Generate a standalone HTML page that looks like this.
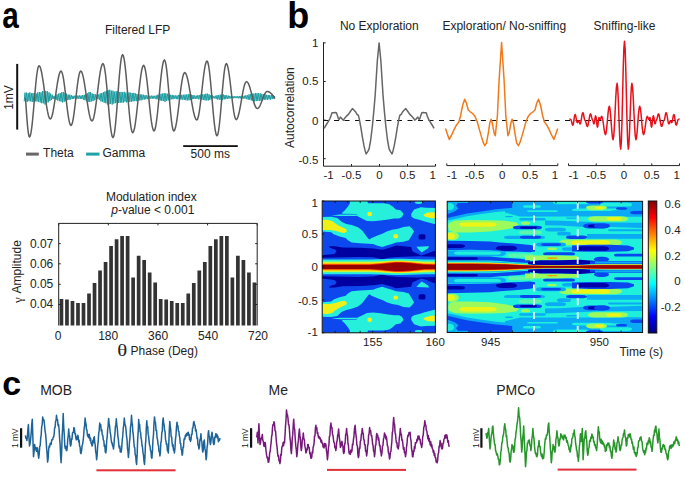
<!DOCTYPE html>
<html><head><meta charset="utf-8"><style>
html,body{margin:0;padding:0;background:#fff;width:685px;height:477px;overflow:hidden;}
svg{display:block;}
</style></head><body>
<svg width="685" height="477" viewBox="0 0 685 477">
<rect width="685" height="477" fill="#fff"/>
<text transform="translate(2.3,28.1) scale(0.874,1.083)" font-family="Liberation Sans, sans-serif" font-weight="bold" font-size="34" fill="#000">a</text>
<text x="137.6" y="34.4" font-family="Liberation Sans, sans-serif" font-size="12" fill="#222" text-anchor="middle">Filtered LFP</text>
<rect x="16.2" y="63.9" width="2" height="65.7" fill="#111"/>
<text transform="translate(12.9,97.5) rotate(-90)" font-family="Liberation Sans, sans-serif" font-size="12" fill="#222" text-anchor="middle">1mV</text>
<path d="M24.2,101.4 L25,92.7 L25.8,101.53 L26.6,92.64 L27.4,101.78 L28.2,93.18 L29,101.17 L29.8,92.41 L30.6,101.37 L31.4,93.12 L32.2,101.94 L33,93.02 L33.8,101.65 L34.6,93.15 L35.4,101.33 L36.2,93.5 L37,101.53 L37.8,92.43 L38.6,101.83 L39.4,92.14 L40.2,102.43 L41,92.35 L41.8,103.24 L42.6,91.03 L43.4,103.3 L44.2,91.18 L45,104.51 L45.8,90.94 L46.6,103.32 L47.4,91.37 L48.2,102.35 L49,92.33 L49.8,101.01 L50.6,93.63 L51.4,99.96 L52.2,94.75 L53,99.02 L53.8,96.17 L54.6,98.45 L55.4,95.46 L56.2,99.79 L57,94.39 L57.8,100.64 L58.6,93.68 L59.4,101.17 L60.2,93.06 L61,101.59 L61.8,92.28 L62.6,102.41 L63.4,91.98 L64.2,101.77 L65,92.84 L65.8,101.06 L66.6,93.68 L67.4,100.18 L68.2,94.73 L69,99.87 L69.8,94.69 L70.6,99.47 L71.4,95.29 L72.2,98.96 L73,95.81 L73.8,98.79 L74.6,95.69 L75.4,98.61 L76.2,95.86 L77,98.8 L77.8,95.55 L78.6,98.61 L79.4,95.46 L80.2,98.89 L81,95.53 L81.8,99.01 L82.6,95.1 L83.4,99.72 L84.2,94.79 L85,100.31 L85.8,94.16 L86.6,101.07 L87.4,93.36 L88.2,101.84 L89,92.13 L89.8,102.08 L90.6,91.95 L91.4,101.44 L92.2,93.46 L93,101.12 L93.8,94.03 L94.6,100.21 L95.4,94.34 L96.2,99.87 L97,95.08 L97.8,98.98 L98.6,94.55 L99.4,100 L100.2,93.46 L101,101.41 L101.8,92.98 L102.6,101.85 L103.4,92.17 L104.2,102.7 L105,91.44 L105.8,103.24 L106.6,90.76 L107.4,104.44 L108.2,90.28 L109,104.32 L109.8,89.77 L110.6,103.73 L111.4,90.71 L112.2,104.54 L113,90.68 L113.8,103.61 L114.6,91.68 L115.4,103.14 L116.2,91.18 L117,102.4 L117.8,91.33 L118.6,102.99 L119.4,92.21 L120.2,102.78 L121,91.91 L121.8,102.64 L122.6,92.22 L123.4,102.55 L124.2,91.84 L125,101.72 L125.8,92.66 L126.6,102.4 L127.4,91.72 L128.2,101.85 L129,92.43 L129.8,102.01 L130.6,92.78 L131.4,101.57 L132.2,92.99 L133,101.37 L133.8,92.93 L134.6,101.08 L135.4,93.39 L136.2,101.21 L137,93.93 L137.8,100.77 L138.6,93.65 L139.4,100.3 L140.2,94.29 L141,100.37 L141.8,94.54 L142.6,99.69 L143.4,94.71 L144.2,99.68 L145,95.17 L145.8,99.2 L146.6,95.34 L147.4,99.11 L148.2,95.59 L149,98.8 L149.8,95.82 L150.6,98.63 L151.4,95.67 L152.2,98.81 L153,95.73 L153.8,98.59 L154.6,95.84 L155.4,98.81 L156.2,95.49 L157,99.42 L157.8,94.71 L158.6,99.57 L159.4,94.55 L160.2,100.44 L161,93.81 L161.8,100.98 L162.6,93.54 L163.4,100.91 L164.2,93.1 L165,101.84 L165.8,93.33 L166.6,100.87 L167.4,93.74 L168.2,100.39 L169,94.29 L169.8,100.22 L170.6,94.85 L171.4,99.28 L172.2,94.87 L173,99.27 L173.8,95.32 L174.6,98.66 L175.4,95.43 L176.2,99.1 L177,95.46 L177.8,99.29 L178.6,94.94 L179.4,99.51 L180.2,94.84 L181,99.56 L181.8,94.76 L182.6,99.63 L183.4,94.82 L184.2,99.94 L185,94.59 L185.8,100.19 L186.6,94.64 L187.4,100.36 L188.2,94.12 L189,100.32 L189.8,94.27 L190.6,99.97 L191.4,94.78 L192.2,99.19 L193,95.02 L193.8,98.98 L194.6,95.52 L195.4,98.86 L196.2,95.67 L197,98.85 L197.8,95.18 L198.6,99.25 L199.4,95.12 L200.2,99.39 L201,94.53 L201.8,99.79 L202.6,94.29 L203.4,99.98 L204.2,94.4 L205,100.36 L205.8,93.7 L206.6,100.35 L207.4,93.66 L208.2,100.53 L209,94.25 L209.8,99.85 L210.6,95.25 L211.4,99.16 L212.2,95.44 L213,98.41 L213.8,96.19 L214.6,98.33 L215.4,95.74 L216.2,98.89 L217,95.23 L217.8,99.52 L218.6,95.08 L219.4,99.53 L220.2,94.64 L221,99.9 L221.8,94.67 L222.6,100.12 L223.4,94.52 L224.2,99.32 L225,95.02 L225.8,99.14 L226.6,95.4 L227.4,98.88 L228.2,95.55 L229,98.69 L229.8,95.92 L230.6,98.3 L231.4,96.2 L232.2,98.11 L233,96.2 L233.8,98.24 L234.6,96.24 L235.4,98.1 L236.2,96.28 L237,98.16 L237.8,96.17 L238.6,98.32 L239.4,96.12 L240.2,98.44 L241,95.95 L241.8,98.45 L242.6,95.91 L243.4,98.58 L244.2,95.7 L245,98.66 L245.8,95.4 L246.6,99.14 L247.4,95.13 L248.2,99.65 L249,94.41 L249.8,99.83 L250.6,94.17 L251.4,100.38 L252.2,93.54 L253,101.07 L253.8,93.63 L254.6,101.36 L255.4,92.97 L256.2,101.1 L257,93.18 L257.8,100.79 L258.6,93.16 L259.4,100.97 L260.2,93.39 L261,100.78 L261.8,93.85 L262.6,100.45 L263.4,94.2 L264.2,99.82 L265,94.35 L265.8,99.61 L266.6,94.79 L267.4,99.89 L268.2,94.99 L269,99.36 L269.8,95.11 L270.6,99.61 L271.4,95.21 L272.2,99.04 L273,95.07 L273.8,98.65 L274.6,95.92" fill="none" stroke="#1a9ea2" stroke-width="1"/>
<path d="M25.5,98 L26,105.61 L26.5,112.92 L27,119.67 L27.5,125.58 L28,130.43 L28.5,134.03 L29,136.25 L29.5,137 L30.29,135.79 L31.08,132.22 L31.88,126.56 L32.67,119.18 L33.46,110.58 L34.25,101.35 L35.04,92.12 L35.83,83.53 L36.62,76.14 L37.42,70.48 L38.21,66.91 L39,65.7 L39.94,66.61 L40.88,69.27 L41.83,73.51 L42.77,79.03 L43.71,85.45 L44.65,92.35 L45.59,99.25 L46.53,105.67 L47.47,111.19 L48.42,115.43 L49.36,118.09 L50.3,119 L51.19,118.18 L52.08,115.78 L52.97,111.97 L53.87,107 L54.76,101.21 L55.65,95 L56.54,88.79 L57.43,83 L58.33,78.03 L59.22,74.22 L60.11,71.82 L61,71 L61.83,71.93 L62.67,74.65 L63.5,78.98 L64.33,84.62 L65.17,91.2 L66,98.25 L66.83,105.3 L67.67,111.88 L68.5,117.52 L69.33,121.85 L70.17,124.57 L71,125.5 L71.81,124.57 L72.62,121.85 L73.42,117.52 L74.23,111.88 L75.04,105.3 L75.85,98.25 L76.66,91.2 L77.47,84.62 L78.28,78.98 L79.08,74.65 L79.89,71.93 L80.7,71 L81.64,71.85 L82.58,74.35 L83.53,78.32 L84.47,83.5 L85.41,89.53 L86.35,96 L87.29,102.47 L88.23,108.5 L89.17,113.68 L90.12,117.65 L91.06,120.15 L92,121 L92.92,120.02 L93.83,117.15 L94.75,112.59 L95.67,106.65 L96.58,99.73 L97.5,92.3 L98.42,84.87 L99.33,77.95 L100.25,72.01 L101.17,67.45 L102.08,64.58 L103,63.6 L103.83,64.86 L104.67,68.56 L105.5,74.44 L106.33,82.1 L107.17,91.02 L108,100.6 L108.83,110.18 L109.67,119.1 L110.5,126.76 L111.33,132.64 L112.17,136.34 L113,137.6 L113.8,136.19 L114.6,132.04 L115.4,125.44 L116.2,116.85 L117,106.84 L117.8,96.1 L118.6,85.36 L119.4,75.35 L120.2,66.76 L121,60.16 L121.8,56.01 L122.6,54.6 L123.44,55.93 L124.28,59.84 L125.12,66.05 L125.97,74.15 L126.81,83.58 L127.65,93.7 L128.49,103.82 L129.33,113.25 L130.17,121.35 L131.02,127.56 L131.86,131.47 L132.7,132.8 L133.61,131.65 L134.52,128.28 L135.42,122.91 L136.33,115.93 L137.24,107.79 L138.15,99.05 L139.06,90.31 L139.97,82.18 L140.88,75.19 L141.78,69.82 L142.69,66.45 L143.6,65.3 L144.47,66.42 L145.33,69.7 L146.2,74.92 L147.07,81.72 L147.93,89.65 L148.8,98.15 L149.67,106.65 L150.53,114.57 L151.4,121.38 L152.27,126.6 L153.13,129.88 L154,131 L154.87,129.79 L155.73,126.24 L156.6,120.59 L157.47,113.23 L158.33,104.65 L159.2,95.45 L160.07,86.25 L160.93,77.68 L161.8,70.31 L162.67,64.66 L163.53,61.11 L164.4,59.9 L165.18,61.11 L165.97,64.66 L166.75,70.31 L167.53,77.67 L168.32,86.25 L169.1,95.45 L169.88,104.65 L170.67,113.22 L171.45,120.59 L172.23,126.24 L173.02,129.79 L173.8,131 L174.71,130 L175.62,127.08 L176.53,122.43 L177.43,116.38 L178.34,109.32 L179.25,101.75 L180.16,94.18 L181.07,87.12 L181.97,81.07 L182.88,76.42 L183.79,73.5 L184.7,72.5 L185.71,73.31 L186.72,75.68 L187.72,79.46 L188.73,84.38 L189.74,90.1 L190.75,96.25 L191.76,102.4 L192.77,108.12 L193.78,113.04 L194.78,116.82 L195.79,119.19 L196.8,120 L197.65,118.99 L198.5,116.05 L199.35,111.36 L200.2,105.25 L201.05,98.14 L201.9,90.5 L202.75,82.86 L203.6,75.75 L204.45,69.64 L205.3,64.95 L206.15,62.01 L207,61 L207.83,62.27 L208.67,66.01 L209.5,71.95 L210.33,79.7 L211.17,88.72 L212,98.4 L212.83,108.08 L213.67,117.1 L214.5,124.85 L215.33,130.79 L216.17,134.53 L217,135.8 L217.78,134.57 L218.55,130.96 L219.32,125.23 L220.1,117.75 L220.88,109.04 L221.65,99.7 L222.43,90.36 L223.2,81.65 L223.98,74.17 L224.75,68.44 L225.53,64.83 L226.3,63.6 L227.12,64.55 L227.95,67.35 L228.78,71.8 L229.6,77.6 L230.43,84.35 L231.25,91.6 L232.07,98.85 L232.9,105.6 L233.72,111.4 L234.55,115.85 L235.38,118.65 L236.2,119.6 L237.06,118.95 L237.92,117.05 L238.77,114.04 L239.63,110.1 L240.49,105.52 L241.35,100.6 L242.21,95.68 L243.07,91.1 L243.93,87.16 L244.78,84.15 L245.64,82.25 L246.5,81.6 L247.4,82.06 L248.3,83.41 L249.2,85.55 L250.1,88.35 L251,91.61 L251.9,95.1 L252.8,98.59 L253.7,101.85 L254.6,104.65 L255.5,106.79 L256.4,108.14 L257.3,108.6 L258.12,108.31 L258.95,107.45 L259.77,106.08 L260.6,104.3 L261.43,102.23 L262.25,100 L263.07,97.77 L263.9,95.7 L264.73,93.92 L265.55,92.55 L266.38,91.69 L267.2,91.4 L268.18,91.54 L269.15,91.94 L270.12,92.6 L271.1,93.48 L272.07,94.56 L273.05,95.78 L274.02,97.11 L275,98.5" fill="none" stroke="#5c5c5c" stroke-width="1.5" stroke-linejoin="round"/>
<rect x="26" y="152.6" width="12.8" height="3" fill="#666"/>
<text x="43.1" y="157.3" font-family="Liberation Sans, sans-serif" font-size="12" fill="#222">Theta</text>
<rect x="86.1" y="152.6" width="13.4" height="3" fill="#1fa2a6"/>
<text x="102.4" y="157.3" font-family="Liberation Sans, sans-serif" font-size="12" fill="#222">Gamma</text>
<rect x="183.2" y="145.2" width="54.6" height="1.8" fill="#111"/>
<text x="210.3" y="157.7" font-family="Liberation Sans, sans-serif" font-size="12" fill="#222" text-anchor="middle">500 ms</text>
<text x="151.3" y="200.8" font-family="Liberation Sans, sans-serif" font-size="12" fill="#222" text-anchor="middle">Modulation index</text>
<text x="152.8" y="214.3" font-family="Liberation Sans, sans-serif" font-size="12" fill="#222" text-anchor="middle"><tspan font-style="italic">p</tspan>-value &lt; 0.001</text>
<path d="M59.6,299h3.7V325.5h-3.7zM65.11,299.5h3.7V325.5h-3.7zM70.63,301.1h3.7V325.5h-3.7zM76.14,303.1h3.7V325.5h-3.7zM81.66,303.1h3.7V325.5h-3.7zM87.17,293.6h3.7V325.5h-3.7zM92.68,282.9h3.7V325.5h-3.7zM98.2,270.5h3.7V325.5h-3.7zM103.71,261.9h3.7V325.5h-3.7zM109.22,245.9h3.7V325.5h-3.7zM114.74,239.3h3.7V325.5h-3.7zM120.25,236.1h3.7V325.5h-3.7zM125.77,236.1h3.7V325.5h-3.7zM131.28,277.6h3.7V325.5h-3.7zM136.79,255.8h3.7V325.5h-3.7zM142.31,260.1h3.7V325.5h-3.7zM147.82,272.6h3.7V325.5h-3.7zM153.34,282.4h3.7V325.5h-3.7zM158.85,299h3.7V325.5h-3.7zM164.36,299.5h3.7V325.5h-3.7zM169.88,301.1h3.7V325.5h-3.7zM175.39,303.1h3.7V325.5h-3.7zM180.91,303.1h3.7V325.5h-3.7zM186.42,293.6h3.7V325.5h-3.7zM191.93,282.9h3.7V325.5h-3.7zM197.45,270.5h3.7V325.5h-3.7zM202.96,261.9h3.7V325.5h-3.7zM208.47,245.9h3.7V325.5h-3.7zM213.99,239.3h3.7V325.5h-3.7zM219.5,236.1h3.7V325.5h-3.7zM225.02,236.1h3.7V325.5h-3.7zM230.53,277.6h3.7V325.5h-3.7zM236.04,255.8h3.7V325.5h-3.7zM241.56,260.1h3.7V325.5h-3.7zM247.07,272.6h3.7V325.5h-3.7zM252.59,282.4h3.7V325.5h-3.7z" fill="#333"/>
<path d="M58.7,325.5V223.4H257.2V325.5" fill="none" stroke="#222" stroke-width="1"/>
<path d="M58.7,243.6h2M257.2,243.6h-2M58.7,263.8h2M257.2,263.8h-2M58.7,284.3h2M257.2,284.3h-2M58.7,304.5h2M257.2,304.5h-2M58.7,223.4v2M108.33,223.4v2M157.95,223.4v2M207.57,223.4v2M257.2,223.4v2" stroke="#222" stroke-width="1"/>
<text x="53.3" y="247.5" font-family="Liberation Sans, sans-serif" font-size="12" fill="#222" text-anchor="end">0.07</text>
<text x="53.3" y="267.7" font-family="Liberation Sans, sans-serif" font-size="12" fill="#222" text-anchor="end">0.06</text>
<text x="53.3" y="288.2" font-family="Liberation Sans, sans-serif" font-size="12" fill="#222" text-anchor="end">0.05</text>
<text x="53.3" y="308.4" font-family="Liberation Sans, sans-serif" font-size="12" fill="#222" text-anchor="end">0.04</text>
<text x="58.2" y="340.1" font-family="Liberation Sans, sans-serif" font-size="12" fill="#222" text-anchor="middle">0</text>
<text x="108.15" y="340.1" font-family="Liberation Sans, sans-serif" font-size="12" fill="#222" text-anchor="middle">180</text>
<text x="158.1" y="340.1" font-family="Liberation Sans, sans-serif" font-size="12" fill="#222" text-anchor="middle">360</text>
<text x="208.05" y="340.1" font-family="Liberation Sans, sans-serif" font-size="12" fill="#222" text-anchor="middle">540</text>
<text x="258" y="340.1" font-family="Liberation Sans, sans-serif" font-size="12" fill="#222" text-anchor="middle">720</text>
<text transform="translate(21.2,266.8) rotate(-90)" font-family="Liberation Sans, sans-serif" font-size="12" fill="#222" text-anchor="middle">Amplitude</text>
<text transform="translate(21.5,300.2) rotate(-90)" font-family="Liberation Serif, serif" font-size="13" fill="#222" text-anchor="middle">γ</text>
<text transform="translate(117.3,355.6) scale(1.3,1)" font-family="Liberation Serif, serif" font-size="16" fill="#222">θ</text>
<text x="130.6" y="354.9" font-family="Liberation Sans, sans-serif" font-size="12" fill="#222">Phase (Deg)</text>
<text x="287.2" y="27.6" font-family="Liberation Sans, sans-serif" font-weight="bold" font-size="36" fill="#000">b</text>
<text x="379.3" y="30.1" font-family="Liberation Sans, sans-serif" font-size="12" fill="#222" text-anchor="middle">No Exploration</text>
<text x="504.3" y="30.1" font-family="Liberation Sans, sans-serif" font-size="12" fill="#222" text-anchor="middle">Exploration/ No-sniffing</text>
<text x="624.5" y="30.1" font-family="Liberation Sans, sans-serif" font-size="12" fill="#222" text-anchor="middle">Sniffing-like</text>
<text transform="translate(294.3,107.6) rotate(-90)" font-family="Liberation Sans, sans-serif" font-size="12" fill="#222" text-anchor="middle">Autocorrelation</text>
<path d="M323.5,42.2V166.2H435.5M323.5,42.9h2.2M323.5,81.5h2.2M323.5,120.1h2.2M323.5,158.7h2.2" fill="none" stroke="#222" stroke-width="1"/>
<path d="M351.5,166.2v-2.2M379.5,166.2v-2.2M407.5,166.2v-2.2M435.5,166.2v-2.2M446.8,165.6H557.8M446.8,165.6v-2.2M474.55,165.6v-2.2M502.3,165.6v-2.2M530.05,165.6v-2.2M557.8,165.6v-2.2M568.5,165.6H679.5M568.5,165.6v-2.2M596.25,165.6v-2.2M624,165.6v-2.2M651.75,165.6v-2.2M679.5,165.6v-2.2" fill="none" stroke="#222" stroke-width="1"/>
<text x="318.3" y="46.6" font-family="Liberation Sans, sans-serif" font-size="11.5" fill="#222" text-anchor="end">1</text>
<text x="318.3" y="84.7" font-family="Liberation Sans, sans-serif" font-size="11.5" fill="#222" text-anchor="end">0.5</text>
<text x="318.3" y="124.6" font-family="Liberation Sans, sans-serif" font-size="11.5" fill="#222" text-anchor="end">0</text>
<text x="318.3" y="164.2" font-family="Liberation Sans, sans-serif" font-size="11.5" fill="#222" text-anchor="end">-0.5</text>
<text x="323.5" y="179.1" font-family="Liberation Sans, sans-serif" font-size="11.5" fill="#222">-1</text>
<text x="435.8" y="179.1" font-family="Liberation Sans, sans-serif" font-size="11.5" fill="#222" text-anchor="end">1</text>
<text x="351.5" y="179.1" font-family="Liberation Sans, sans-serif" font-size="11.5" fill="#222" text-anchor="middle">-0.5</text>
<text x="379.5" y="179.1" font-family="Liberation Sans, sans-serif" font-size="11.5" fill="#222" text-anchor="middle">0</text>
<text x="407.5" y="179.1" font-family="Liberation Sans, sans-serif" font-size="11.5" fill="#222" text-anchor="middle">0.5</text>
<text x="446.8" y="179.1" font-family="Liberation Sans, sans-serif" font-size="11.5" fill="#222">-1</text>
<text x="558.1" y="179.1" font-family="Liberation Sans, sans-serif" font-size="11.5" fill="#222" text-anchor="end">1</text>
<text x="474.55" y="179.1" font-family="Liberation Sans, sans-serif" font-size="11.5" fill="#222" text-anchor="middle">-0.5</text>
<text x="502.3" y="179.1" font-family="Liberation Sans, sans-serif" font-size="11.5" fill="#222" text-anchor="middle">0</text>
<text x="530.05" y="179.1" font-family="Liberation Sans, sans-serif" font-size="11.5" fill="#222" text-anchor="middle">0.5</text>
<text x="568.5" y="179.1" font-family="Liberation Sans, sans-serif" font-size="11.5" fill="#222">-1</text>
<text x="679.8" y="179.1" font-family="Liberation Sans, sans-serif" font-size="11.5" fill="#222" text-anchor="end">1</text>
<text x="596.25" y="179.1" font-family="Liberation Sans, sans-serif" font-size="11.5" fill="#222" text-anchor="middle">-0.5</text>
<text x="624" y="179.1" font-family="Liberation Sans, sans-serif" font-size="11.5" fill="#222" text-anchor="middle">0</text>
<text x="651.75" y="179.1" font-family="Liberation Sans, sans-serif" font-size="11.5" fill="#222" text-anchor="middle">0.5</text>
<path d="M323.5,120.5H679.5" stroke="#111" stroke-width="1.2" stroke-dasharray="5 5.5"/>
<path d="M324.1,128.4 L326.1,125 L328.2,121.6 L329.8,118.8 L330.9,116.1 L332,112.7 L333.6,112.7 L335,112.4 L336.4,112.7 L337.4,115.4 L338.4,118.8 L339.1,119.5 L340.4,117.1 L341.5,118.2 L342.5,119.5 L343.4,120.2 L344.5,118.4 L345.9,116.8 L347.3,115.4 L348.6,114.1 L350,112 L352.4,108.6 L354.1,110.3 L355.7,112 L356.8,114.1 L358.4,115.4 L359.5,120.2 L360.9,127.7 L362.2,135.9 L363.9,145.4 L365.2,150.9 L366.2,153.9 L367.7,151.6 L369.1,148.8 L370.7,140 L372.5,125 L373.8,111.4 L375.2,95 L377.3,61.2 L379.1,42.9 L380.9,61.2 L383,95 L384.4,111.4 L385.7,125 L387.5,140 L389.1,148.8 L390.5,151.6 L392,153.9 L393,150.9 L394.3,145.4 L396,135.9 L397.3,127.7 L398.7,120.2 L399.8,115.4 L401.4,114.1 L402.5,112 L404.1,110.3 L405.8,108.6 L408.2,112 L409.6,114.1 L410.9,115.4 L412.3,116.8 L413.7,118.4 L414.8,120.2 L415.7,119.5 L416.7,118.2 L417.8,117.1 L419.1,119.5 L419.8,118.8 L420.8,115.4 L421.8,112.7 L423.2,112.4 L424.6,112.7 L426.2,112.7 L427.3,116.1 L428.4,118.8 L430,121.6 L432.1,125 L434.1,128.4" fill="none" stroke="#666" stroke-width="1.5" stroke-linejoin="round"/>
<path d="M445.5,128.6 L447.5,134.4 L449.3,139.4 L451.3,135.7 L453.8,130.1 L456.4,125.1 L458.9,121.8 L460.6,115.5 L462.6,105.5 L464.7,99.2 L466.4,103 L468.2,110 L470.2,111.8 L472.7,113.5 L475.2,116.8 L477.2,121.8 L479,128.1 L481.5,136.9 L483.3,142.7 L484.8,145.7 L486.5,143.2 L488.3,133.1 L489.8,123.1 L491.1,119.3 L492.3,123.1 L494.1,133.1 L495.3,135.7 L497.4,115.5 L499.1,80.3 L501.6,42.6 L504.1,80.3 L505.8,115.5 L507.9,135.7 L509.1,133.1 L510.9,123.1 L512.1,119.3 L513.4,123.1 L514.9,133.1 L516.7,143.2 L518.4,145.7 L519.9,142.7 L521.7,136.9 L524.2,128.1 L526,121.8 L528,116.8 L530.5,113.5 L533,111.8 L535,110 L536.8,103 L538.5,99.2 L540.6,105.5 L542.6,115.5 L544.3,121.8 L546.8,125.1 L549.4,130.1 L551.9,135.7 L553.9,139.4 L555.7,134.4 L557.7,128.6" fill="none" stroke="#f07a1a" stroke-width="1.5" stroke-linejoin="round"/>
<path d="M569.4,118.9 L569.62,118.94 L569.83,119.05 L570.05,119.2 L570.27,119.35 L570.48,119.46 L570.7,119.5 L571.05,119.88 L571.4,120.92 L571.75,122.35 L572.1,123.78 L572.45,124.82 L572.8,125.2 L573.18,124.48 L573.57,122.53 L573.95,119.85 L574.33,117.17 L574.72,115.22 L575.1,114.5 L575.47,115.05 L575.83,116.55 L576.2,118.6 L576.57,120.65 L576.93,122.15 L577.3,122.7 L577.52,122.57 L577.73,122.23 L577.95,121.75 L578.17,121.28 L578.38,120.93 L578.6,120.8 L578.85,121.01 L579.1,121.58 L579.35,122.35 L579.6,123.12 L579.85,123.69 L580.1,123.9 L580.57,123.14 L581.03,121.08 L581.5,118.25 L581.97,115.42 L582.43,113.36 L582.9,112.6 L583.23,113.11 L583.57,114.5 L583.9,116.4 L584.23,118.3 L584.57,119.69 L584.9,120.2 L585.32,120.62 L585.73,121.75 L586.15,123.3 L586.57,124.85 L586.98,125.98 L587.4,126.4 L587.92,125.56 L588.43,123.28 L588.95,120.15 L589.47,117.03 L589.98,114.74 L590.5,113.9 L590.87,114.32 L591.23,115.48 L591.6,117.05 L591.97,118.62 L592.33,119.78 L592.7,120.2 L592.9,120.45 L593.1,121.12 L593.3,122.05 L593.5,122.98 L593.7,123.65 L593.9,123.9 L594.18,123.36 L594.47,121.88 L594.75,119.85 L595.03,117.83 L595.32,116.34 L595.6,115.8 L595.92,116.56 L596.23,118.62 L596.55,121.45 L596.87,124.27 L597.18,126.34 L597.5,127.1 L597.75,126.46 L598,124.72 L598.25,122.35 L598.5,119.97 L598.75,118.24 L599,117.6 L599.17,117.73 L599.33,118.07 L599.5,118.55 L599.67,119.02 L599.83,119.37 L600,119.5 L600.28,119.29 L600.57,118.73 L600.85,117.95 L601.13,117.18 L601.42,116.61 L601.7,116.4 L602.33,117.62 L602.97,120.95 L603.6,125.5 L604.23,130.05 L604.87,133.38 L605.5,134.6 L606.13,132.7 L606.77,127.52 L607.4,120.45 L608.03,113.38 L608.67,108.2 L609.3,106.3 L609.93,108.54 L610.57,114.65 L611.2,123 L611.83,131.35 L612.47,137.46 L613.1,139.7 L613.77,135.92 L614.43,125.6 L615.1,111.5 L615.77,97.4 L616.43,87.08 L617.1,83.3 L617.7,87.71 L618.3,99.75 L618.9,116.2 L619.5,132.65 L620.1,144.69 L620.7,149.1 L621.33,141.88 L621.97,122.15 L622.6,95.2 L623.23,68.25 L623.87,48.52 L624.5,41.3 L625.13,48.52 L625.77,68.25 L626.4,95.2 L627.03,122.15 L627.67,141.88 L628.3,149.1 L628.9,144.69 L629.5,132.65 L630.1,116.2 L630.7,99.75 L631.3,87.71 L631.9,83.3 L632.57,87.08 L633.23,97.4 L633.9,111.5 L634.57,125.6 L635.23,135.92 L635.9,139.7 L636.53,137.46 L637.17,131.35 L637.8,123 L638.43,114.65 L639.07,108.54 L639.7,106.3 L640.33,108.2 L640.97,113.38 L641.6,120.45 L642.23,127.52 L642.87,132.7 L643.5,134.6 L644.13,133.38 L644.77,130.05 L645.4,125.5 L646.03,120.95 L646.67,117.62 L647.3,116.4 L647.58,116.61 L647.87,117.17 L648.15,117.95 L648.43,118.72 L648.72,119.29 L649,119.5 L649.17,119.37 L649.33,119.03 L649.5,118.55 L649.67,118.08 L649.83,117.73 L650,117.6 L650.25,118.24 L650.5,119.97 L650.75,122.35 L651,124.72 L651.25,126.46 L651.5,127.1 L651.82,126.34 L652.13,124.27 L652.45,121.45 L652.77,118.62 L653.08,116.56 L653.4,115.8 L653.68,116.34 L653.97,117.83 L654.25,119.85 L654.53,121.88 L654.82,123.36 L655.1,123.9 L655.3,123.65 L655.5,122.98 L655.7,122.05 L655.9,121.12 L656.1,120.45 L656.3,120.2 L656.67,119.78 L657.03,118.62 L657.4,117.05 L657.77,115.48 L658.13,114.32 L658.5,113.9 L659.02,114.74 L659.53,117.03 L660.05,120.15 L660.57,123.28 L661.08,125.56 L661.6,126.4 L662.02,125.98 L662.43,124.85 L662.85,123.3 L663.27,121.75 L663.68,120.62 L664.1,120.2 L664.43,119.69 L664.77,118.3 L665.1,116.4 L665.43,114.5 L665.77,113.11 L666.1,112.6 L666.57,113.36 L667.03,115.42 L667.5,118.25 L667.97,121.08 L668.43,123.14 L668.9,123.9 L669.15,123.69 L669.4,123.12 L669.65,122.35 L669.9,121.58 L670.15,121.01 L670.4,120.8 L670.62,120.93 L670.83,121.27 L671.05,121.75 L671.27,122.22 L671.48,122.57 L671.7,122.7 L672.07,122.15 L672.43,120.65 L672.8,118.6 L673.17,116.55 L673.53,115.05 L673.9,114.5 L674.28,115.22 L674.67,117.17 L675.05,119.85 L675.43,122.53 L675.82,124.48 L676.2,125.2 L676.55,124.82 L676.9,123.78 L677.25,122.35 L677.6,120.92 L677.95,119.88 L678.3,119.5 L678.52,119.46 L678.73,119.35 L678.95,119.2 L679.17,119.05 L679.38,118.94 L679.6,118.9" fill="none" stroke="#e8101a" stroke-width="1.5" stroke-linejoin="round"/>
<defs><clipPath id="c1"><rect x="322.2" y="201.0" width="113.2" height="65.95"/></clipPath><g id="h1t"><rect x="322.2" y="201" width="113.2" height="65.91" fill="#0c48ee"/>
<path d="M350.2,200 L367,200 L368,203.2 L384,203.2 L389.3,204.3 L392.7,206.5 L394.2,208.1 L396,209.6 L400.5,210.3 L403.5,213.7 L402,217.1 L399,218.6 L394.2,218.6 L388.2,219.4 L380.6,220.5 L373.1,221.3 L367,220.9 L364,219.4 L361,217.9 L358,216.5 L356.2,214.1 L342.6,213.7 L341.9,213 L344.9,210.3 L347.9,206.5 L349.8,203.5Z" fill="#26f0dc"/>
<path d="M331,215.4 L340,214.6 L356,214.5 L358,216.1 L340,216.1Z" fill="#26f0dc"/>
<path d="M320,217.1 L331.3,216.7 L337.4,217.9 L339.6,220.1 L341.9,222 L346.4,223.9 L351.7,225 L358,227.2 L361,229.6 L363,231.5 L365.5,235 L367.8,238 L369.3,239.5 L371.6,238 L376.9,235.8 L382.9,233.5 L386.7,231.5 L392,229.8 L398,228.8 L403.5,226.9 L409.6,226.2 L412.6,229.2 L414.1,231.5 L413.4,232.5 L411.1,236.5 L408.8,240.3 L403.5,241.8 L396,242.6 L392,244.1 L386.7,245.6 L382.2,247.1 L376.9,245.6 L373.1,244.1 L360,243.3 L351.7,242.6 L347.9,240.3 L345.7,238 L339.6,236.5 L333.6,234.3 L331.3,232.2 L320,231.5Z" fill="#26f0dc"/>
<path d="M320,220.1 L327.5,219.8 L332.1,220.9 L335.1,223.2 L338.9,225.8 L343.4,227.7 L346.4,229.2 L346.8,231.5 L344.2,233 L341.1,232.6 L335.1,230.7 L329.8,229.9 L320,229.9Z" fill="#f0f018"/>
<ellipse cx="369.7" cy="214" rx="2.4" ry="2.2" fill="#f0f018"/>
<ellipse cx="395.7" cy="236.2" rx="2.4" ry="2.2" fill="#f0f018"/>
<path d="M411.1,214.1 L414.1,209.6 L420.9,207.3 L426.2,207.7 L437,208.1 L437,224.7 L431.5,223.2 L424.7,221.6 L420.2,220.1 L414.1,218.6 L411.5,216.7Z" fill="#26f0dc"/>
<path d="M423.2,214.8 L427.7,212.6 L437,212.2 L437,218.6 L430,217.9 L424.7,216.4Z" fill="#f0f018"/>
<ellipse cx="418.6" cy="202.6" rx="3.8" ry="1.3" fill="#26f0dc"/>
<rect x="418.6" y="234.3" width="6.8" height="5.2" rx="1.5" fill="#0000a0"/>
<path d="M329.1,246 L335.1,246.3 L342.6,247.5 L360,247.8 L373.1,248.6 L382.2,249.7 L389.7,247.8 L396,245.6 L411.1,247.1 L412.6,251.6 L417.9,253.9 L420.9,255.4 L424.7,254.6 L430,252.4 L433.7,250.9 L437,250.9 L437,256.9 L418.6,256.2 L398,256.9 L388.2,257.7 L382.2,259.3 L373.1,257.3 L358,256.9 L320,257.7 L320,255.4 L334.3,253.9 L336.6,251.6 L335.1,249.4 L329.8,247.8Z" fill="#0000a0"/>
<path d="M416.4,246.7 L429.2,246.3 L427.7,248.6 L421.7,252.4 L418.6,249.4Z" fill="#26f0dc"/>
<path d="M320,259.5 L370,259.5 L380,259.32 L388,259.05 L395,258.87 L402,258.87 L410,259.02 L417,259.23 L424,259.44 L437,259.5 L437,266.91 L320,266.91Z" fill="#26f0dc"/>
<path d="M320,261.5 L370,261.5 L380,261.2 L388,260.75 L395,260.45 L402,260.45 L410,260.7 L417,261.05 L424,261.4 L437,261.5 L437,266.91 L320,266.91Z" fill="#9cfa5c"/>
<path d="M320,262.3 L370,262.3 L380,261.88 L388,261.25 L395,260.83 L402,260.83 L410,261.18 L417,261.67 L424,262.16 L437,262.3 L437,266.91 L320,266.91Z" fill="#f0f018"/>
<path d="M320,263.4 L370,263.4 L380,262.89 L388,262.12 L395,261.61 L402,261.61 L410,262.04 L417,262.63 L424,263.23 L437,263.4 L437,266.91 L320,266.91Z" fill="#ffa000"/>
<path d="M320,264.2 L370,264.2 L380,263.6 L388,262.7 L395,262.1 L402,262.1 L410,262.6 L417,263.3 L424,264 L437,264.2 L437,266.91 L320,266.91Z" fill="#f02800"/>
<path d="M320,264.9 L370,264.9 L380,264.3 L388,263.4 L395,262.8 L402,262.8 L410,263.3 L417,264 L424,264.7 L437,264.9 L437,266.91 L320,266.91Z" fill="#960000"/></g></defs>
<g clip-path="url(#c1)"><use href="#h1t"/></g>
<g transform="translate(0,533.8) scale(1,-1)" clip-path="url(#c1)"><use href="#h1t"/></g>
<defs><clipPath id="c2"><rect x="447.2" y="201.3" width="195.4" height="65.65"/></clipPath><g id="h2t"><rect x="445" y="200" width="200" height="66.91" fill="#1ef0dc"/>
<path d="M505,200 L520,200 L560,200 L600,200 L645,200 L645,216.4 L600,216.4 L560,216.4 L520,216.4 L505,212.5Z" fill="#0aaaf5"/>
<path d="M445,221 L453.8,219.2 L466.9,216.2 L481.5,214 L496.1,212 L512,210.5 L520,212 L520,205 L445,205Z" fill="#0aaaf5"/>
<rect x="445" y="201" width="13" height="11" rx="6.5" ry="5.5" fill="#0aaaf5"/>
<rect x="445" y="203" width="9" height="7" rx="4.5" ry="3.5" fill="#1ef0dc"/>
<path d="M457.4,200 L512.2,200 L512.2,207.8 L496.1,209.2 L481.5,211.4 L466.9,213.6 L453.8,216.5 L445,218.5 L445,214.5 L450,213.3 L455.5,211 L458.5,208.5 L456,205.5 L457.6,203Z" fill="#0a46ee"/>
<rect x="523" y="205.3" width="18" height="2.5" rx="3" ry="1.25" fill="#1ef0dc"/>
<rect x="527" y="210.2" width="31" height="1.7" rx="2.04" ry="0.85" fill="#1ef0dc"/>
<rect x="553" y="200" width="37" height="4.3" rx="5.16" ry="2.15" fill="#1ef0dc"/>
<rect x="572" y="208.4" width="48" height="2.6" rx="3.12" ry="1.3" fill="#1ef0dc"/>
<rect x="600" y="202.8" width="32" height="3.8" rx="4.56" ry="1.9" fill="#1ef0dc"/>
<rect x="559" y="205" width="17" height="3.8" rx="4.56" ry="1.9" fill="#0aaaf5"/>
<rect x="586" y="205.4" width="21" height="4.8" rx="5.76" ry="2.4" fill="#9cfa5c"/>
<rect x="595" y="206.4" width="9" height="2.8" rx="3.36" ry="1.4" fill="#ecf516"/>
<rect x="586" y="200" width="17" height="3.6" rx="4.32" ry="1.8" fill="#0a46ee"/>
<rect x="616" y="207.2" width="11" height="2.6" rx="3.12" ry="1.3" fill="#0a46ee"/>
<rect x="629" y="210.8" width="17" height="3.5" rx="4.2" ry="1.75" fill="#0a46ee"/>
<rect x="608" y="210.3" width="38" height="6.1" rx="7.32" ry="3.05" fill="#0aaaf5"/>
<rect x="630" y="210.9" width="16" height="3.3" rx="3.96" ry="1.65" fill="#0a46ee"/>
<path d="M449,223 L455,220.6 L470,220 L490,220.2 L505,220.8 L516,222.2 L519,224.5 L515,227.5 L505,229.5 L490,231.5 L470,232.4 L455,232.4 L449,230.5 L448,226Z" fill="#9cfa5c"/>
<rect x="455" y="200" width="15" height="3.1" rx="3.72" ry="1.55" fill="#0aaaf5"/>
<rect x="459.6" y="222.4" width="36.9" height="4.4" rx="5.28" ry="2.2" fill="#ecf516"/>
<rect x="519" y="218.1" width="27" height="2.5" rx="3" ry="1.25" fill="#0aaaf5"/>
<rect x="521" y="221.5" width="9" height="3.3" rx="3.96" ry="1.65" fill="#9cfa5c"/>
<rect x="505" y="215.9" width="8" height="1.4" rx="1.68" ry="0.7" fill="#0aaaf5"/>
<rect x="566" y="217.4" width="12" height="1.3" rx="1.56" ry="0.65" fill="#0aaaf5"/>
<path d="M545,220.4 L560,220.8 L585,221.8 L600,222.6 L645,222.8 L645,228 L600,226.5 L585,227 L560,225.6 L545,225.2Z" fill="#0aaaf5"/>
<rect x="588" y="216.2" width="40" height="5.4" rx="6.48" ry="2.7" fill="#9cfa5c"/>
<rect x="606.5" y="217.1" width="15" height="3.5" rx="4.2" ry="1.75" fill="#ecf516"/>
<rect x="513" y="225.8" width="29" height="3.5" rx="4.2" ry="1.75" fill="#0a46ee"/>
<rect x="520" y="226.5" width="17" height="2.3" rx="2.76" ry="1.15" fill="#0000aa"/>
<rect x="545" y="227.7" width="21" height="3.8" rx="4.56" ry="1.9" fill="#0aaaf5"/>
<rect x="583" y="223.6" width="26" height="4.8" rx="5.76" ry="2.4" fill="#0a46ee"/>
<rect x="588" y="224.4" width="18" height="3.2" rx="3.84" ry="1.6" fill="#0000aa"/>
<rect x="594" y="223.4" width="16" height="4.8" rx="5.76" ry="2.4" fill="#0a46ee"/>
<rect x="557" y="231.8" width="14" height="3.7" rx="4.44" ry="1.85" fill="#0aaaf5"/>
<rect x="608" y="229.2" width="38" height="2" rx="2.4" ry="1" fill="#0aaaf5"/>
<rect x="519" y="230.6" width="23" height="3.6" rx="4.32" ry="1.8" fill="#5af8a8"/>
<rect x="445" y="231.8" width="14" height="8.4" rx="7" ry="4.2" fill="#9cfa5c"/>
<rect x="445" y="233.3" width="10" height="5.8" rx="5" ry="2.9" fill="#ecf516"/>
<rect x="504" y="235.7" width="41" height="3.2" rx="3.84" ry="1.6" fill="#0aaaf5"/>
<rect x="520" y="235.8" width="21" height="2.9" rx="3.48" ry="1.45" fill="#0a46ee"/>
<rect x="566" y="235.5" width="21" height="3.4" rx="4.08" ry="1.7" fill="#0a46ee"/>
<path d="M587,234 L600,234 L645,234 L645,238.8 L600,238.8 L587,238.8Z" fill="#0aaaf5"/>
<rect x="559" y="239.6" width="63" height="5.7" rx="6.84" ry="2.85" fill="#9cfa5c"/>
<rect x="571" y="240.4" width="39" height="4" rx="4.8" ry="2" fill="#ecf516"/>
<rect x="596" y="240" width="12" height="4.6" rx="5.52" ry="2.3" fill="#ecf516"/>
<rect x="536" y="242.6" width="30" height="4" rx="4.8" ry="2" fill="#0aaaf5"/>
<rect x="541" y="243.2" width="20" height="2.7" rx="3.24" ry="1.35" fill="#0a46ee"/>
<path d="M445,240.6 L470,241 L490,241.5 L500,242.5 L520,244 L530,245 L535,246 L535,251.5 L530,252.3 L520,251.8 L500,251.4 L490,250.2 L470,249.8 L445,250.2Z" fill="#0a46ee"/>
<rect x="445" y="244.3" width="20" height="3.6" rx="4.32" ry="1.8" fill="#0000aa"/>
<rect x="496" y="245.7" width="21" height="5" rx="6" ry="2.5" fill="#0000aa"/>
<rect x="562" y="247.3" width="14" height="3.5" rx="4.2" ry="1.75" fill="#0aaaf5"/>
<path d="M572,245.5 L590,244.8 L610,244.8 L628,245.5 L634,247.5 L634,249.5 L628,251.2 L610,251.8 L590,251.8 L572,251.4Z" fill="#0a46ee"/>
<rect x="576" y="246.2" width="33" height="4.6" rx="5.52" ry="2.3" fill="#0000aa"/>
<rect x="547" y="247.5" width="10" height="2.4" rx="2.88" ry="1.2" fill="#9cfa5c"/>
<rect x="445" y="250.4" width="61" height="5.9" rx="7.08" ry="2.95" fill="#0aaaf5"/>
<rect x="454" y="251.5" width="47" height="3.2" rx="3.84" ry="1.6" fill="#1ef0dc"/>
<rect x="508" y="253.6" width="26" height="4" rx="4.8" ry="2" fill="#5af8a8"/>
<rect x="543" y="252.3" width="32" height="3" rx="3.6" ry="1.5" fill="#0a46ee"/>
<rect x="614" y="253.8" width="31" height="2.8" rx="3.36" ry="1.4" fill="#0a46ee"/>
<rect x="618" y="257.3" width="27" height="3.1" rx="3.72" ry="1.55" fill="#1ef0dc"/>
<path d="M445,256.3 L490,256.6 L500,257.5 L520,258.8 L530,260 L530,263 L520,262.6 L500,261 L490,260.6 L445,260.6Z" fill="#0a46ee"/>
<rect x="445" y="257.2" width="33" height="2.5" rx="3" ry="1.25" fill="#0000aa"/>
<path d="M525,255.6 L535,255.4 L560,255.6 L578,256.2 L578,259.6 L560,260.2 L535,260.2 L525,260.2Z" fill="#9cfa5c"/>
<rect x="547" y="257.6" width="10.5" height="1.3" rx="1.56" ry="0.65" fill="#ffa000"/>
<rect x="594" y="256.8" width="15" height="5.1" rx="6.12" ry="2.55" fill="#0a46ee"/>
<rect x="559" y="256.2" width="9" height="2.6" rx="3.12" ry="1.3" fill="#9cfa5c"/>
<path d="M528,261.8 L540,260.3 L560,260.3 L580,259.8 L590,260.6 L600,261.2 L600,266 L590,266 L580,266 L560,266 L540,266 L528,266Z" fill="#0000aa"/>
<path d="M590,261.2 L600,261 L620,261 L645,261 L645,266 L620,266 L600,266 L590,266Z" fill="#0a46ee"/>
<path d="M595,261.4 L610,261.6 L645,261.6 L645,263.6 L610,263.6 L595,263.4Z" fill="#0aaaf5"/>
<path d="M445,261.4 L470,261.4 L490,261.6 L505,262.26 L520,263.38 L533,264.63 L545,264.96 L560,264.96 L578,264.86 L590,264.2 L605,264 L620,263.9 L645,263.9 L645,266.91 L620,266.91 L605,266.91 L590,266.91 L578,266.91 L560,266.91 L545,266.91 L533,266.91 L520,266.91 L505,266.91 L490,266.91 L470,266.91 L445,266.91Z" fill="#0aaaf5"/>
<path d="M445,262.1 L470,262.1 L490,262.3 L505,262.89 L520,263.87 L533,264.94 L545,265.24 L560,265.24 L578,265.14 L590,264.55 L605,264.35 L620,264.25 L645,264.25 L645,266.91 L620,266.91 L605,266.91 L590,266.91 L578,266.91 L560,266.91 L545,266.91 L533,266.91 L520,266.91 L505,266.91 L490,266.91 L470,266.91 L445,266.91Z" fill="#5af8a8"/>
<path d="M445,262.65 L470,262.65 L490,262.85 L505,263.39 L520,264.25 L533,265.19 L545,265.46 L560,265.46 L578,265.36 L590,264.82 L605,264.62 L620,264.52 L645,264.52 L645,266.91 L620,266.91 L605,266.91 L590,266.91 L578,266.91 L560,266.91 L545,266.91 L533,266.91 L520,266.91 L505,266.91 L490,266.91 L470,266.91 L445,266.91Z" fill="#ecf516"/>
<path d="M445,263.1 L470,263.1 L490,263.3 L505,263.79 L520,264.57 L533,265.4 L545,265.64 L560,265.64 L578,265.54 L590,265.05 L605,264.85 L620,264.75 L645,264.75 L645,266.91 L620,266.91 L605,266.91 L590,266.91 L578,266.91 L560,266.91 L545,266.91 L533,266.91 L520,266.91 L505,266.91 L490,266.91 L470,266.91 L445,266.91Z" fill="#ffa000"/>
<path d="M445,263.55 L470,263.55 L490,263.75 L505,264.2 L520,264.88 L533,265.6 L545,265.82 L560,265.82 L578,265.72 L590,265.27 L605,265.07 L620,264.97 L645,264.97 L645,266.91 L620,266.91 L605,266.91 L590,266.91 L578,266.91 L560,266.91 L545,266.91 L533,266.91 L520,266.91 L505,266.91 L490,266.91 L470,266.91 L445,266.91Z" fill="#f02800"/>
<path d="M445,264 L470,264 L490,264.2 L505,264.6 L520,265.2 L533,265.8 L545,266 L560,266 L578,265.9 L590,265.5 L605,265.3 L620,265.2 L645,265.2 L645,266.91 L620,266.91 L605,266.91 L590,266.91 L578,266.91 L560,266.91 L545,266.91 L533,266.91 L520,266.91 L505,266.91 L490,266.91 L470,266.91 L445,266.91Z" fill="#960000"/></g></defs>
<g clip-path="url(#c2)"><use href="#h2t"/></g>
<g transform="translate(0,533.8) scale(1,-1)" clip-path="url(#c2)"><use href="#h2t"/></g>
<path d="M533.9,201.7V332.5M577.7,201.7V332.5" stroke="#fff" stroke-width="1.8" stroke-dasharray="7 6.8"/>
<rect x="322.2" y="201.0" width="113.2" height="131.8" fill="none" stroke="#111" stroke-width="1"/>
<rect x="447.2" y="201.3" width="195.4" height="131.2" fill="none" stroke="#111" stroke-width="1"/>
<path d="M335.2,332.8v-2M335.2,201.0v2M347.7,332.8v-2M347.7,201.0v2M360.2,332.8v-2M360.2,201.0v2M372.7,332.8v-2M372.7,201.0v2M385.2,332.8v-2M385.2,201.0v2M397.7,332.8v-2M397.7,201.0v2M410.2,332.8v-2M410.2,201.0v2M422.7,332.8v-2M422.7,201.0v2M468.96,332.5v-2M468.96,201.3v2M490.7,332.5v-2M490.7,201.3v2M512.44,332.5v-2M512.44,201.3v2M534.18,332.5v-2M534.18,201.3v2M555.92,332.5v-2M555.92,201.3v2M577.66,332.5v-2M577.66,201.3v2M599.4,332.5v-2M599.4,201.3v2M621.14,332.5v-2M621.14,201.3v2M322.2,201h2M322.2,233.95h2M322.2,266.9h2M322.2,299.85h2M322.2,332.8h2" stroke="#111" stroke-width="0.9"/>
<text x="317.8" y="206.5" font-family="Liberation Sans, sans-serif" font-size="11.5" fill="#222" text-anchor="end">1</text>
<text x="317.8" y="238" font-family="Liberation Sans, sans-serif" font-size="11.5" fill="#222" text-anchor="end">0.5</text>
<text x="317.8" y="271.2" font-family="Liberation Sans, sans-serif" font-size="11.5" fill="#222" text-anchor="end">0</text>
<text x="317.8" y="304.7" font-family="Liberation Sans, sans-serif" font-size="11.5" fill="#222" text-anchor="end">-0.5</text>
<text x="317.8" y="336.2" font-family="Liberation Sans, sans-serif" font-size="11.5" fill="#222" text-anchor="end">-1</text>
<text x="372.7" y="346.1" font-family="Liberation Sans, sans-serif" font-size="11.5" fill="#222" text-anchor="middle">155</text>
<text x="435.2" y="346.1" font-family="Liberation Sans, sans-serif" font-size="11.5" fill="#222" text-anchor="middle">160</text>
<text x="490.7" y="345.6" font-family="Liberation Sans, sans-serif" font-size="11.5" fill="#222" text-anchor="middle">945</text>
<text x="599.4" y="345.6" font-family="Liberation Sans, sans-serif" font-size="11.5" fill="#222" text-anchor="middle">950</text>
<text x="619.4" y="355.9" font-family="Liberation Sans, sans-serif" font-size="12" fill="#222">Time (s)</text>
<defs><linearGradient id="jet" x1="0" y1="1" x2="0" y2="0"><stop offset="0" stop-color="#000080"/><stop offset="0.125" stop-color="#0000ff"/><stop offset="0.375" stop-color="#00ffff"/><stop offset="0.625" stop-color="#ffff00"/><stop offset="0.875" stop-color="#ff0000"/><stop offset="1" stop-color="#800000"/></linearGradient></defs>
<rect x="648.3" y="201" width="8.5" height="132" fill="url(#jet)" stroke="#111" stroke-width="1"/>
<text x="680.6" y="208.1" font-family="Liberation Sans, sans-serif" font-size="11.5" fill="#222" text-anchor="end">0.6</text>
<text x="680.6" y="233.85" font-family="Liberation Sans, sans-serif" font-size="11.5" fill="#222" text-anchor="end">0.4</text>
<text x="680.6" y="259.6" font-family="Liberation Sans, sans-serif" font-size="11.5" fill="#222" text-anchor="end">0.2</text>
<text x="680.6" y="285.35" font-family="Liberation Sans, sans-serif" font-size="11.5" fill="#222" text-anchor="end">0</text>
<text x="680.6" y="311.1" font-family="Liberation Sans, sans-serif" font-size="11.5" fill="#222" text-anchor="end">-0.2</text>
<text x="2.3" y="394.7" font-family="Liberation Sans, sans-serif" font-weight="bold" font-size="34" fill="#000">c</text>
<text x="40.2" y="394.5" font-family="Liberation Sans, sans-serif" font-size="14" fill="#222">MOB</text>
<text x="268.5" y="394.7" font-family="Liberation Sans, sans-serif" font-size="14" fill="#222">Me</text>
<text x="496.2" y="394.6" font-family="Liberation Sans, sans-serif" font-size="14" fill="#222">PMCo</text>
<rect x="20" y="428.2" width="2.2" height="19.5" fill="#111"/>
<text transform="translate(18.2,438.2) rotate(-90)" font-family="Liberation Sans, sans-serif" font-size="8.5" fill="#222" text-anchor="middle">1 mV</text>
<rect x="250" y="428.2" width="2.2" height="19.5" fill="#111"/>
<text transform="translate(248.2,438.2) rotate(-90)" font-family="Liberation Sans, sans-serif" font-size="8.5" fill="#222" text-anchor="middle">1 mV</text>
<rect x="480.3" y="428.2" width="2.2" height="19.5" fill="#111"/>
<text transform="translate(478.5,438.2) rotate(-90)" font-family="Liberation Sans, sans-serif" font-size="8.5" fill="#222" text-anchor="middle">1 mV</text>
<rect x="96.4" y="469.3" width="79.2" height="2" fill="#e03038"/>
<rect x="327" y="468.9" width="79" height="2" fill="#e03038"/>
<rect x="557.6" y="468.6" width="78.9" height="2" fill="#e03038"/>
<path d="M25.4,435.3 L25.9,438.25 L26.4,437.96 L26.9,440.6 L27.4,437.01 L27.9,429.14 L28.4,424.5 L28.95,436.81 L29.5,446 L30.1,443.41 L30.7,438.3 L31.23,432.64 L31.77,424.05 L32.3,419.2 L32.9,438.62 L33.5,456.7 L34.05,451.98 L34.6,444.5 L35.1,447.26 L35.6,447.8 L36.1,450.6 L36.6,451.43 L37.1,447.44 L37.6,449 L38.15,454.42 L38.7,458.2 L39.2,454.23 L39.7,446.52 L40.2,445.58 L40.7,438.3 L41.2,434.59 L41.7,426.29 L42.2,424.61 L42.7,416.9 L43.3,420.12 L43.9,419.82 L44.5,424.5 L45.03,430.75 L45.57,433.91 L46.1,439.9 L46.6,448.11 L47.1,453.54 L47.6,462.1 L48.1,458.8 L48.6,450.44 L49.1,446 L49.63,447.15 L50.17,443.25 L50.7,444.5 L51.2,444.24 L51.7,439.85 L52.2,439.9 L52.7,439.58 L53.2,437.13 L53.7,436.8 L54.17,434.19 L54.63,427.81 L55.1,427.42 L55.57,421.3 L56.03,420.54 L56.5,415.3 L57.02,419.48 L57.54,419.68 L58.06,425.61 L58.58,424.48 L59.1,429.1 L59.6,438.56 L60.1,444.32 L60.6,455.92 L61.1,462.8 L61.62,452.65 L62.15,436.24 L62.68,426.94 L63.2,413.5 L63.73,426.7 L64.27,434.35 L64.8,446 L65.3,448.5 L65.8,446.34 L66.3,450.32 L66.8,450.6 L67.28,446.71 L67.75,439.18 L68.22,436.28 L68.7,429.1 L69.17,435.3 L69.65,435.92 L70.12,443.95 L70.6,446 L71.06,444.4 L71.52,438.63 L71.98,439.39 L72.44,433.32 L72.9,432.2 L73.4,432.35 L73.9,427.55 L74.4,428.4 L74.9,434 L75.4,433.55 L75.9,438.3 L76.36,439.8 L76.82,436.99 L77.28,439.26 L77.74,435.34 L78.2,436.8 L78.67,441.99 L79.13,440.32 L79.6,446.31 L80.07,446.71 L80.53,452.6 L81,453.6 L81.55,450.82 L82.1,445.32 L82.65,444.23 L83.2,439.9 L83.67,435.26 L84.15,428.29 L84.62,425.53 L85.1,418.1 L85.56,422.37 L86.02,423.93 L86.48,429.72 L86.94,429.69 L87.4,435.3 L87.86,436.35 L88.32,434.49 L88.78,437.79 L89.24,434.31 L89.7,436.8 L90.16,440.71 L90.62,438.32 L91.08,443.42 L91.54,442.81 L92,446 L92.46,445.41 L92.92,440.13 L93.38,442.8 L93.84,437.77 L94.3,436.8 L94.76,442.32 L95.22,444.98 L95.68,451.62 L96.14,453.73 L96.6,459.8 L97.12,455.33 L97.63,446.46 L98.15,442.01 L98.67,433.91 L99.18,430.4 L99.7,423 L100.22,426.67 L100.73,424.78 L101.25,430.99 L101.77,429.67 L102.28,434.96 L102.8,435.3 L103.3,440.05 L103.8,440.47 L104.3,446.32 L104.8,445.03 L105.3,452.14 L105.8,452.9 L106.27,449.19 L106.73,440.09 L107.2,436.97 L107.67,429.11 L108.13,425.89 L108.6,418.4 L109.12,423.41 L109.64,426.28 L110.16,432.28 L110.68,434.71 L111.2,439.9 L111.66,442.93 L112.12,442.85 L112.58,445.96 L113.04,446.31 L113.5,449 L113.97,444.73 L114.43,437.65 L114.9,434.5 L115.37,426.63 L115.83,425.46 L116.3,418.7 L116.82,425.03 L117.34,428.57 L117.86,436.31 L118.38,439.28 L118.9,446 L119.36,448.04 L119.82,446.31 L120.28,452.05 L120.74,449.44 L121.2,452.1 L121.72,447.9 L122.23,440.01 L122.75,435.88 L123.27,428.22 L123.78,424.84 L124.3,418.1 L124.9,424.39 L125.5,425.61 L126.1,430.7 L126.56,436.7 L127.02,439.11 L127.48,448.33 L127.94,451.28 L128.4,457.5 L128.92,452.04 L129.43,442.78 L129.95,437.95 L130.47,427.01 L130.98,424.49 L131.5,415.3 L131.96,422.37 L132.42,424.67 L132.88,432.22 L133.34,435.28 L133.8,441.4 L134.27,447.22 L134.73,447.51 L135.2,454.9 L135.67,455.54 L136.13,461.57 L136.6,464.4 L137.12,455.26 L137.65,439.63 L138.17,432.93 L138.7,419.6 L139.17,425.03 L139.63,424.29 L140.1,431.68 L140.57,432.13 L141.03,438.05 L141.5,439.9 L142,445.22 L142.5,447.41 L143,452.8 L143.5,455.13 L144,461.38 L144.5,464.4 L144.96,457.51 L145.42,444.6 L145.88,439.59 L146.34,427.15 L146.8,420.7 L147.26,427.22 L147.72,426.66 L148.18,434.38 L148.64,436.26 L149.1,441.4 L149.57,445.21 L150.03,446.05 L150.5,450.77 L150.97,450.88 L151.43,457.62 L151.9,458.2 L152.42,452.05 L152.94,440.22 L153.46,435.2 L153.98,423.12 L154.5,416.9 L155.02,421.49 L155.53,422.78 L156.05,430.64 L156.57,430.23 L157.08,438.02 L157.6,439.9 L158.06,444.56 L158.52,445.38 L158.98,451.52 L159.44,451.5 L159.9,455.9 L160.37,452.54 L160.84,442.75 L161.31,441.01 L161.79,432.98 L162.26,431.2 L162.73,421.6 L163.2,418.1 L163.67,422.89 L164.13,425.04 L164.6,430.62 L165.07,431.4 L165.53,439.57 L166,441.4 L166.46,444.56 L166.92,443.91 L167.38,450.66 L167.84,448.82 L168.3,452.9 L168.8,443.66 L169.3,430.38 L169.8,421.5 L170.26,426.62 L170.72,429.43 L171.18,436.69 L171.64,436.85 L172.1,442.9 L172.56,446.45 L173.02,444.62 L173.48,450.28 L173.94,448.73 L174.4,452.9 L174.92,448.85 L175.44,439.64 L175.96,435.53 L176.48,427.21 L177,422.2 L177.47,425.8 L177.93,425.68 L178.4,430.97 L178.87,431.11 L179.33,435.87 L179.8,437.6 L180.26,443.36 L180.72,443.4 L181.18,449.58 L181.64,450.03 L182.1,455.2 L182.56,454.05 L183.02,447.08 L183.48,447.31 L183.94,440.18 L184.4,438.3 L184.88,439.09 L185.35,435.23 L185.82,436.65 L186.3,433.86 L186.78,435.42 L187.25,433.12 L187.72,435 L188.2,432.2 L188.66,434.95 L189.12,434.43 L189.58,439.63 L190.04,437.96 L190.5,441.4 L191,439.74 L191.5,434.18 L192,434.47 L192.5,428.02 L193,427.98 L193.5,422.73 L194,421.5 L194.52,424.99 L195.04,425.28 L195.56,430.81 L196.08,429.75 L196.6,433.7 L197.06,438.37 L197.52,437.85 L197.98,445.12 L198.44,444.54 L198.9,449 L199.4,446.88 L199.9,439.84 L200.4,439.05 L200.9,433.7 L201.38,440.15 L201.85,441.49 L202.33,449.06 L202.8,452.1 L203.3,449.49 L203.8,441.67 L204.3,439.9 L204.9,448.39 L205.5,450.99 L206.1,459.8 L206.6,456.28 L207.1,447.09 L207.6,443.95 L208.1,434.22 L208.6,430.7 L209.05,436.26 L209.5,436.75 L209.95,441.87 L210.4,444.5 L210.93,441.8 L211.47,435.57 L212,432.2 L212.45,436.31 L212.9,437.62 L213.35,443.23 L213.8,444.5 L214.3,443.81 L214.8,436.89 L215.3,437.28 L215.8,433.7 L216.32,436.74 L216.83,434.21 L217.35,438.01 L217.87,436.11 L218.38,441.79 L218.9,440.6 L219.45,440.3 L220,438" fill="none" stroke="#1b6399" stroke-width="1.5" stroke-linejoin="round"/>
<path d="M256.1,436.8 L256.75,436.81 L257.4,432.2 L258,442.9 L258.9,423.8 L259.45,435.47 L260,444.5 L260.5,442.88 L261,438.3 L261.65,438.78 L262.3,434.5 L262.8,440.43 L263.3,441.28 L263.8,446 L264.3,446.34 L264.8,442.41 L265.3,442.9 L265.95,450.26 L266.6,455.2 L267.12,457.88 L267.65,457.48 L268.18,462.27 L268.7,462.1 L269.2,458.71 L269.7,452.45 L270.2,451.42 L270.7,446 L271.16,442.33 L271.62,436.2 L272.08,434.82 L272.54,427.28 L273,424.5 L273.5,424.98 L274,421.66 L274.5,423.8 L275.03,430.65 L275.57,431.12 L276.1,438.3 L276.6,444.19 L277.1,447.42 L277.6,453.6 L278.06,456.27 L278.52,455.6 L278.98,460.69 L279.44,460.77 L279.9,463.6 L280.36,461.44 L280.82,454.32 L281.28,455.11 L281.74,448.45 L282.2,446 L282.66,446.25 L283.12,442.51 L283.58,445.77 L284.04,441.66 L284.5,442.9 L285,435.44 L285.5,425.75 L286,420.06 L286.5,410 L287,414.17 L287.5,414.87 L288,418.4 L288.5,424.79 L289,424.86 L289.5,430.7 L289.98,438.47 L290.45,441.4 L290.92,450.02 L291.4,453.6 L291.86,447.44 L292.32,437.69 L292.78,434.38 L293.24,424.87 L293.7,419.2 L294.2,427.16 L294.7,429.67 L295.2,438.3 L295.73,445.52 L296.27,449.73 L296.8,456.7 L297.32,452.73 L297.84,444.63 L298.36,440.94 L298.88,433.73 L299.4,429.1 L299.88,435.17 L300.35,438.89 L300.82,446.39 L301.3,450.6 L301.8,447.35 L302.3,439.83 L302.8,438.52 L303.3,433 L303.82,438.48 L304.34,440.04 L304.86,446.16 L305.38,448.29 L305.9,452.9 L306.36,452.27 L306.82,448.91 L307.28,449.78 L307.74,444.59 L308.2,444.5 L308.72,447.72 L309.23,447.61 L309.75,453.63 L310.27,452.84 L310.78,457.99 L311.3,458.2 L311.76,457.14 L312.22,451.83 L312.68,452.98 L313.14,447.13 L313.6,446 L314.06,443.37 L314.52,435.88 L314.98,435.95 L315.44,428.22 L315.9,425.3 L316.36,429.54 L316.82,427.71 L317.28,433.46 L317.74,432.53 L318.2,436 L318.66,437.85 L319.12,436.54 L319.58,438.69 L320.04,437.75 L320.5,439.1 L321.02,442.18 L321.53,440.34 L322.05,443.44 L322.57,442.95 L323.08,446.96 L323.6,446 L324.06,447.87 L324.52,443.59 L324.98,446.21 L325.44,443.76 L325.9,444.5 L326.4,450.73 L326.9,453.27 L327.4,459.8 L327.9,455.43 L328.4,447.88 L328.9,445.1 L329.4,436.44 L329.9,435.87 L330.4,426.67 L330.9,423 L331.42,427.42 L331.94,427.42 L332.46,434.3 L332.98,435.28 L333.5,439.9 L333.96,442.64 L334.42,442.89 L334.88,447.77 L335.34,446.96 L335.8,450.6 L336.27,447.98 L336.73,441.92 L337.2,440.46 L337.67,435.19 L338.13,433.44 L338.6,429.1 L339.2,436.55 L339.8,440.69 L340.4,447.5 L340.93,446.11 L341.47,442.29 L342,441.4 L342.45,445.47 L342.9,445.85 L343.35,452.1 L343.8,453.6 L344.27,451.35 L344.73,443.42 L345.2,442.89 L345.67,434.62 L346.13,433.9 L346.6,428.4 L347.06,434.33 L347.52,435.51 L347.98,443.49 L348.44,445.46 L348.9,452.1 L349.42,453.86 L349.94,451.42 L350.46,454.2 L350.98,449.89 L351.5,452.1 L351.98,450.78 L352.45,444.08 L352.92,445.01 L353.4,439.9 L353.97,435.88 L354.53,428.62 L355.1,425.3 L355.75,433.31 L356.4,438.3 L356.9,445.2 L357.4,445.85 L357.9,454.79 L358.4,457.5 L358.89,455.51 L359.38,448.02 L359.86,448.42 L360.35,441.1 L360.84,440.33 L361.32,435.02 L361.81,432.88 L362.3,428.4 L362.75,432.52 L363.2,433.36 L363.65,439.13 L364.1,439.9 L364.6,444.71 L365.1,444.57 L365.6,451.23 L366.1,450.87 L366.6,455.9 L367.1,452.66 L367.6,445.86 L368.1,443.79 L368.6,435.09 L369.1,433.82 L369.6,427.6 L370.12,431.62 L370.64,430.73 L371.16,435.7 L371.68,435.51 L372.2,439.9 L372.66,444.31 L373.12,445.89 L373.58,451.06 L374.04,451.43 L374.5,456.7 L374.96,453.01 L375.42,445.45 L375.88,445.08 L376.34,436.57 L376.8,433.4 L377.26,436.29 L377.72,435.14 L378.18,440.03 L378.64,437.82 L379.1,441.4 L379.56,446.01 L380.02,445.44 L380.48,450.84 L380.94,452.13 L381.4,455.9 L381.92,453.14 L382.43,446.33 L382.95,445.6 L383.47,439.01 L383.98,437.44 L384.5,433 L384.96,435.09 L385.42,434.68 L385.88,438.95 L386.34,436.67 L386.8,439.9 L387.34,445.54 L387.88,446.42 L388.42,452.89 L388.96,453.74 L389.5,459 L389.98,457.19 L390.45,451.69 L390.92,451.46 L391.4,446 L391.86,441.28 L392.32,432.28 L392.78,431.25 L393.24,422.65 L393.7,417.6 L394.16,423.49 L394.62,424.44 L395.08,433.32 L395.54,434.03 L396,439.9 L396.46,442.8 L396.92,442.56 L397.38,447.66 L397.84,446.2 L398.3,449 L398.8,445.5 L399.3,437.84 L399.8,435.09 L400.3,428.4 L400.82,433.93 L401.34,434 L401.86,440.14 L402.38,439.76 L402.9,444.5 L403.42,449.14 L403.94,447.51 L404.46,452.84 L404.98,452.04 L405.5,456.7 L405.98,453.9 L406.46,447.5 L406.94,444.47 L407.42,438.09 L407.9,435.3 L408.45,435.94 L409,432.61 L409.55,433.83 L410.1,432.2 L410.58,438.32 L411.06,440.83 L411.54,449.01 L412.02,451.2 L412.5,456.7 L412.99,456.68 L413.47,450.65 L413.96,451.6 L414.44,446.55 L414.93,448.73 L415.41,442.65 L415.9,442.9 L416.42,442.87 L416.93,439.33 L417.45,440.76 L417.97,435.9 L418.48,438.81 L419,436 L419.54,439.55 L420.08,439.23 L420.62,444 L421.16,444.51 L421.7,447.5 L422.22,443.82 L422.73,436.46 L423.25,435.21 L423.77,427.35 L424.28,426.22 L424.8,420.7 L425.32,424.7 L425.84,425.02 L426.36,430.4 L426.88,431.11 L427.4,435.3 L427.86,438.84 L428.32,435.55 L428.78,441.02 L429.24,438.44 L429.7,441.4 L430.22,444.91 L430.73,441.64 L431.25,446.79 L431.77,444.57 L432.28,448.42 L432.8,449 L433.28,452.45 L433.76,450.66 L434.23,455.55 L434.71,453.37 L435.19,457.78 L435.67,457.51 L436.14,462 L436.62,460.44 L437.1,462.8 L437.6,460.55 L438.1,454.18 L438.6,452.84 L439.1,446.07 L439.6,446.66 L440.1,440.6 L440.58,443.77 L441.05,443.02 L441.52,448.04 L442,449 L442.5,448.32 L443,443.12 L443.5,443.05 L444,438.98 L444.5,438.56 L445,435.3 L445.46,437.99 L445.92,434.73 L446.38,437.68 L446.84,434.91 L447.3,437.6 L447.8,442.29 L448.3,440.79 L448.8,445.35 L449.3,446.8" fill="none" stroke="#76187a" stroke-width="1.5" stroke-linejoin="round"/>
<path d="M486,433 L486.9,438.3 L487.35,436.77 L487.8,432.59 L488.25,432.09 L488.7,428.4 L489.35,439.46 L490,449 L490.5,445.2 L491,438.27 L491.5,434.5 L491.97,433.33 L492.43,426.7 L492.9,426.1 L493.5,434.95 L494.1,439.9 L494.6,444.29 L495.1,444.66 L495.6,450.59 L496.1,452.1 L496.7,454.91 L497.3,453.96 L497.9,456.7 L498.38,459.34 L498.85,459.45 L499.32,464.82 L499.8,464.4 L500.3,459.85 L500.8,452.14 L501.3,450.01 L501.8,442.9 L502.3,442.52 L502.8,436.84 L503.3,435.3 L503.8,432.55 L504.3,426.59 L504.8,423.8 L505.26,428.64 L505.72,429.44 L506.18,436.68 L506.64,435.75 L507.1,441.4 L507.62,447.02 L508.13,447.66 L508.65,452.41 L509.17,453.32 L509.68,460.86 L510.2,462.1 L510.65,459.15 L511.1,451.64 L511.55,449.5 L512,444.5 L512.5,447.7 L513,446.03 L513.5,452.29 L514,452.1 L514.5,449.26 L515,439.8 L515.5,438.22 L516,432.2 L516.5,429.43 L517,424.19 L517.5,421.5 L518.05,416.14 L518.6,407.7 L519.13,415.66 L519.67,417.67 L520.2,426.1 L520.7,436.67 L521.2,441.67 L521.7,452.1 L522.2,447.58 L522.7,437.68 L523.2,434.19 L523.7,426.1 L524.3,440.3 L524.9,451.16 L525.5,466.7 L525.98,461.77 L526.45,452.54 L526.92,450.61 L527.4,442.9 L527.88,443.3 L528.35,440.57 L528.82,441.7 L529.3,439.9 L529.83,445.21 L530.37,445.18 L530.9,450.6 L531.4,445.85 L531.9,438.77 L532.4,435.49 L532.9,428.4 L533.42,435.6 L533.95,438.2 L534.48,446.05 L535,450.6 L535.5,453.81 L536,453.03 L536.5,456.32 L537,456.7 L537.5,454.1 L538,446.32 L538.5,446.39 L539,440.6 L539.55,446.44 L540.1,446.44 L540.65,452.57 L541.2,455.2 L541.68,456.84 L542.16,454.07 L542.64,458.87 L543.12,456.45 L543.6,458.2 L544.2,452.21 L544.8,443.44 L545.4,438.3 L545.93,439.11 L546.47,434.94 L547,435.3 L547.6,432.26 L548.2,425.3 L548.8,423 L549.3,433.23 L549.8,437.91 L550.3,447.54 L550.8,453.63 L551.3,462.8 L551.75,459.58 L552.2,451.82 L552.65,450.03 L553.1,444.5 L553.58,448.43 L554.05,446.37 L554.52,451.71 L555,452.1 L555.48,447.72 L555.95,439.05 L556.42,437.21 L556.9,430.7 L557.4,436.6 L557.9,437.33 L558.4,443.17 L558.9,446 L559.38,444.89 L559.85,438.72 L560.32,439.09 L560.8,433.7 L561.26,436.27 L561.72,434.92 L562.18,437.94 L562.64,436.67 L563.1,439.1 L563.6,439.95 L564.1,434.89 L564.6,437.11 L565.1,435.3 L565.62,438.13 L566.14,437.36 L566.66,442.21 L567.18,440.52 L567.7,442.9 L568.16,445.43 L568.62,445.87 L569.08,449.73 L569.54,448.04 L570,452.1 L570.46,451.53 L570.92,444.66 L571.38,446.22 L571.84,438.78 L572.3,438.3 L572.8,437.39 L573.3,433.17 L573.8,434.28 L574.3,429.9 L574.75,435.87 L575.2,437.29 L575.65,443.77 L576.1,446 L576.56,450.34 L577.02,450.85 L577.48,456.38 L577.94,457.34 L578.4,461.3 L578.9,455.01 L579.4,446.4 L579.9,441.83 L580.4,433.7 L581.2,441.4 L581.75,437.22 L582.3,428.4 L583.1,459.8 L583.7,449.87 L584.3,438.3 L584.8,438.1 L585.3,432.26 L585.8,430.7 L586.27,438.07 L586.75,440.87 L587.23,451.15 L587.7,455.2 L588.16,453.52 L588.62,448.39 L589.08,447.47 L589.54,441.69 L590,439.9 L590.46,441.24 L590.92,437.11 L591.38,438.4 L591.84,434.01 L592.3,435.3 L592.75,437.48 L593.2,437.01 L593.65,441.94 L594.1,441.4 L594.6,445.22 L595.1,444.41 L595.6,447.58 L596.1,448.05 L596.6,450.6 L597.2,444.92 L597.8,433.67 L598.4,426.8 L598.85,432.4 L599.3,431.88 L599.75,438.96 L600.2,441.4 L600.67,442.61 L601.13,439.31 L601.6,443.46 L602.07,440.79 L602.53,443.87 L603,442.1 L603.47,444.69 L603.93,443.84 L604.4,446.96 L604.87,445.81 L605.33,451.43 L605.8,450.6 L606.32,450.42 L606.85,444.45 L607.38,445.47 L607.9,442.9 L608.4,444.7 L608.9,442.99 L609.4,447.55 L609.9,446 L610.4,451.37 L610.9,450.8 L611.4,456.2 L611.9,458.2 L612.35,455 L612.8,447.56 L613.25,446.75 L613.7,439.9 L614.16,443.27 L614.62,442.74 L615.08,449.15 L615.54,447.58 L616,452.1 L616.5,450.27 L617,442.76 L617.5,441.82 L618,436.8 L618.55,441.43 L619.1,442.45 L619.65,449.16 L620.2,450.6 L620.68,448.88 L621.16,444.72 L621.64,445.18 L622.12,439.71 L622.6,438.3 L623.08,436.92 L623.55,433.44 L624.02,433.59 L624.5,429.9 L625.1,436.45 L625.7,438.27 L626.3,446 L626.8,445.32 L627.3,437.87 L627.8,438.45 L628.3,434.5 L628.76,435.55 L629.22,434.33 L629.68,436.9 L630.14,433.82 L630.6,436 L631.06,439.4 L631.52,438.98 L631.98,443.35 L632.44,442.28 L632.9,446 L633.4,449.34 L633.9,447.1 L634.4,452.7 L634.9,452.1 L635.35,454.67 L635.8,452.83 L636.25,456.54 L636.7,455.2 L637.16,453.41 L637.62,447.74 L638.08,447.71 L638.54,441.59 L639,440.6 L639.5,440.61 L640,437.65 L640.5,438.79 L641,436.8 L641.55,441.13 L642.1,441.51 L642.65,448.79 L643.2,450.6 L643.68,452.36 L644.15,450.44 L644.62,454.71 L645.1,452.9 L645.56,452.41 L646.02,447.88 L646.48,448.96 L646.94,443.12 L647.4,442.9 L647.86,444.52 L648.32,440.6 L648.78,442.07 L649.24,437.79 L649.7,439.1 L650.16,443.65 L650.62,441.73 L651.08,447.09 L651.54,447.73 L652,451.3 L652.53,446.78 L653.07,439.69 L653.6,435.3 L654.06,435.81 L654.52,429.97 L654.98,432.05 L655.44,426.67 L655.9,426.1 L656.4,432.46 L656.9,433.09 L657.4,439.77 L657.9,442.9 L658.4,438 L658.9,429.1 L659.4,437.15 L659.9,439.81 L660.4,448.02 L660.9,452.1 L661.42,452.3 L661.94,448.07 L662.46,448.8 L662.98,445.17 L663.5,444.5 L664,446.59 L664.5,445.69 L665,449.55 L665.5,449 L666.05,453.47 L666.6,453.43 L667.15,457.72 L667.7,459.8 L668.2,457.54 L668.7,451.08 L669.2,450.38 L669.7,446 L670.16,447.32 L670.62,445.35 L671.08,448.51 L671.54,445.05 L672,446.8 L672.46,446.73 L672.92,444.46 L673.38,445.77 L673.84,442.09 L674.3,442.9 L674.76,443.59 L675.22,440.02 L675.68,440.61 L676.14,436.81 L676.6,437.6 L677.14,440.62 L677.68,439.85 L678.22,443.79 L678.76,442 L679.3,446" fill="none" stroke="#27962a" stroke-width="1.5" stroke-linejoin="round"/>
</svg>
</body></html>
